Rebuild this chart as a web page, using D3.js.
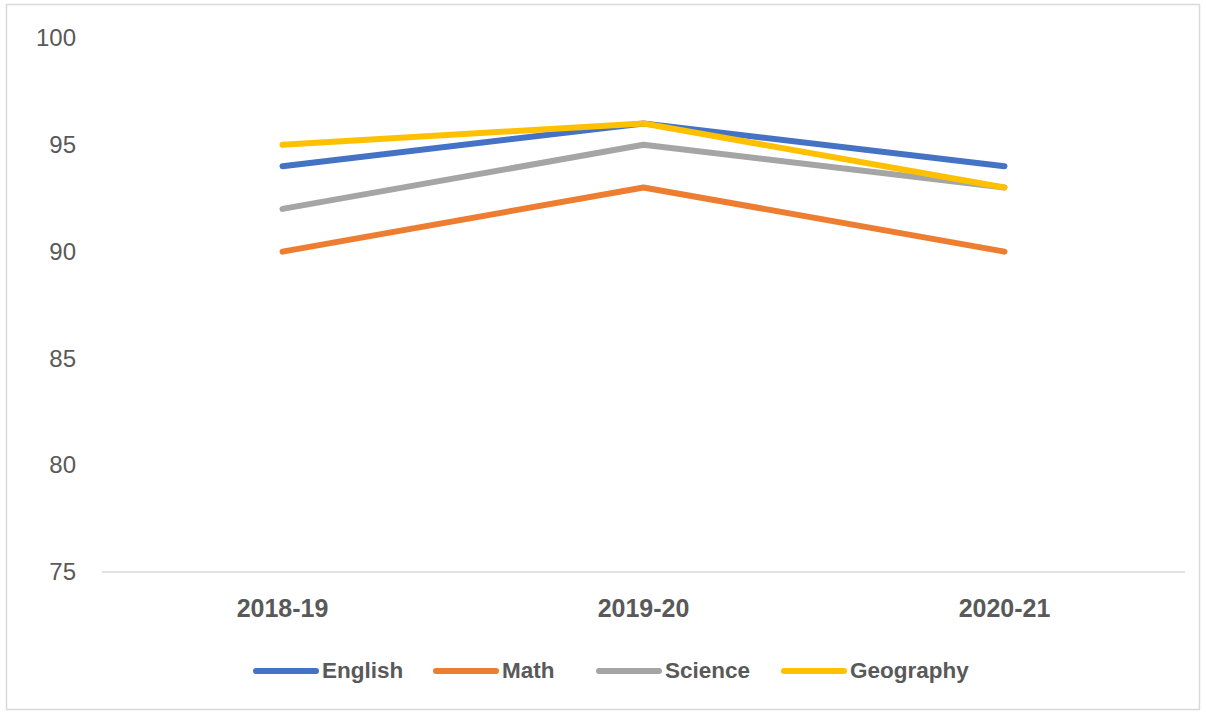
<!DOCTYPE html>
<html>
<head>
<meta charset="utf-8">
<script src="https://cdn.jsdelivr.net/npm/d3@7"></script>
<style>
  html, body { margin: 0; padding: 0; background: #fff; }
  svg { display: block; }
</style>
</head>
<body>
<svg id="chart" width="1206" height="713"></svg>
<script>
const categories = ["2018-19", "2019-20", "2020-21"];
const seriesNames = ["English", "Math", "Science", "Geography"];
const english = [94, 96, 94];
const math = [90, 93, 90];
const science = [92, 95, 93];
const geography = [95, 96, 93];
const yTicks = [75, 80, 85, 90, 95, 100];
const colors = ["#4472C4", "#ED7D31", "#A5A5A5", "#FFC000"];

const seriesValues = [english, math, science, geography];
const series = seriesNames.map((n, i) => ({ name: n, values: seriesValues[i], color: colors[i] }));

const svg = d3.select("#chart");
const font = "'Liberation Sans', 'Open Sans', sans-serif";

// outer frame
svg.append("rect").attr("x", 6.5).attr("y", 4.5).attr("width", 1193).attr("height", 705)
  .attr("fill", "#fff").attr("stroke", "#d9d9d9").attr("stroke-width", 1.5);

const plotLeft = 102, plotRight = 1185;
const x = d3.scaleBand().domain(categories).range([plotLeft, plotRight]);
const y = d3.scaleLinear().domain([75, 100]).range([572, 38]);

// baseline
svg.append("line").attr("x1", plotLeft).attr("x2", plotRight).attr("y1", y(75)).attr("y2", y(75))
  .attr("stroke", "#d9d9d9").attr("stroke-width", 1.5);

// y axis labels
const yAxis = d3.axisLeft(y).tickValues(yTicks).tickSize(0).tickPadding(0);
const yg = svg.append("g").attr("transform", "translate(76,0)").call(yAxis);
yg.select(".domain").remove();
yg.selectAll("text").attr("font-family", font).attr("font-size", 24).attr("fill", "#595959");

// x axis labels
const xAxis = d3.axisBottom(x).tickSize(0).tickPadding(0);
const xg = svg.append("g").attr("transform", "translate(0,0)").call(xAxis);
xg.select(".domain").remove();
xg.selectAll("text").attr("font-family", font).attr("font-size", 25).attr("font-weight", "bold").attr("fill", "#595959")
  .attr("y", 617).attr("dy", 0);

// lines
const line = d3.line().x((d, i) => x(categories[i]) + x.bandwidth() / 2).y(d => y(d));
svg.append("g").selectAll("path").data(series).join("path")
  .attr("d", d => line(d.values))
  .attr("fill", "none").attr("stroke", d => d.color).attr("stroke-width", 6)
  .attr("stroke-linecap", "round").attr("stroke-linejoin", "round");

// legend
const legendX = [253, 433, 596, 781];
const lg = svg.append("g");
series.forEach((s, i) => {
  lg.append("line").attr("x1", legendX[i] + 3).attr("x2", legendX[i] + 63)
    .attr("y1", 671).attr("y2", 671).attr("stroke", s.color).attr("stroke-width", 6).attr("stroke-linecap", "round");
  lg.append("text").attr("x", legendX[i] + 69).attr("y", 678).text(s.name)
    .attr("font-family", font).attr("font-size", 22.5).attr("font-weight", "bold").attr("fill", "#595959");
});
</script>
</body>
</html>
